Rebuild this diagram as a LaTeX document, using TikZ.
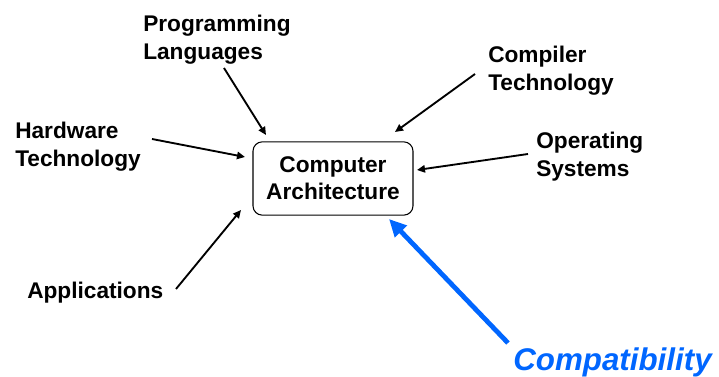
\documentclass[tikz,border=0pt]{standalone}
\usepackage{fontspec}
\setmainfont{Liberation Sans}
\usetikzlibrary{arrows.meta}
\definecolor{compblue}{RGB}{0,102,255}
\tikzset{
  lbl/.style={anchor=north west,inner sep=0pt,align=left,font=\fontsize{17}{20.5}\selectfont\bfseries},
  feed/.style={-{Triangle[length=6pt,width=5.5pt]},line width=1.4pt},
}
\begin{document}
\begin{tikzpicture}[x=0.75pt,y=-0.75pt]
  \useasboundingbox (0,0) rectangle (719,377);
  \node[draw,rounded corners=7pt,line width=0.8pt,minimum width=120pt,minimum height=55pt,inner sep=0pt,
        align=center,font=\fontsize{17}{20.5}\selectfont\bfseries] (arch) at (333,178.5) {Computer\\Architecture};
  % the fields around it
  \node[lbl] (prog) at (143,15)  {Programming\\Languages};
  \node[lbl] (comp) at (488,46)  {Compiler\\Technology};
  \node[lbl] (hard) at (15,122)  {Hardware\\Technology};
  \node[lbl] (oper) at (536,132) {Operating\\Systems};
  \node[lbl] (appl) at (27,282)  {Applications};
  \node[lbl,text=compblue,font=\fontsize{23.5}{28}\selectfont\bfseries\itshape] (compat) at (513,348) {Compatibility};
  % arrow ends
  \coordinate (progT) at (224,68);  \coordinate (progH) at (266,135);
  \coordinate (compT) at (475,74);  \coordinate (compH) at (395,132);
  \coordinate (hardT) at (152,139); \coordinate (hardH) at (245,157);
  \coordinate (operT) at (528,154); \coordinate (operH) at (417,170);
  \coordinate (applT) at (176,289); \coordinate (applH) at (241,210);
  \coordinate (cmptT) at (508,343); \coordinate (cmptH) at (389,219);
  \draw[feed] (progT) -- (progH);
  \draw[feed] (compT) -- (compH);
  \draw[feed] (hardT) -- (hardH);
  \draw[feed] (operT) -- (operH);
  \draw[feed] (applT) -- (applH);
  \draw[compblue,line width=3.6pt,-{Triangle[length=13pt,width=12pt]}] (cmptT) -- (cmptH);
\end{tikzpicture}
\end{document}
